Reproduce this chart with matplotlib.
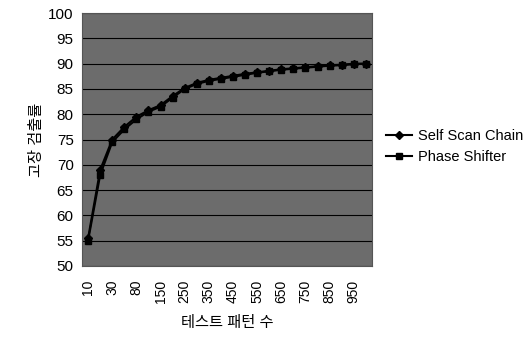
import matplotlib
matplotlib.use("Agg")
import matplotlib.pyplot as plt
import numpy as np

plt.rcParams['font.family'] = ['Liberation Sans', 'Noto Sans CJK KR', 'DejaVu Sans']

categories = [10, 20, 30, 50, 80, 100, 150, 200, 250, 300, 350, 400, 450, 500,
              550, 600, 650, 700, 750, 800, 850, 900, 950, 1000]
self_scan = [55.5, 69.0, 75.0, 77.5, 79.5, 80.8, 81.8, 83.6, 85.2, 86.2, 86.8, 87.2,
             87.6, 88.0, 88.3, 88.6, 88.9, 89.1, 89.3, 89.5, 89.7, 89.8, 90.0, 90.0]
phase_shifter = [55.0, 68.0, 74.5, 77.0, 79.0, 80.5, 81.5, 83.3, 85.0, 86.0, 86.6, 87.0,
                 87.4, 87.8, 88.2, 88.5, 88.8, 89.0, 89.2, 89.4, 89.6, 89.7, 89.9, 90.0]

fig = plt.figure(figsize=(5.26, 3.45), dpi=100)
ax = fig.add_axes([0.156, 0.229, 0.551, 0.733])
ax.set_facecolor('#6c6c6c')

x = np.arange(len(categories))
ax.plot(x, self_scan, color='black', lw=1.5, marker='D', ms=4, label='Self Scan Chain', zorder=3)
ax.plot(x, phase_shifter, color='black', lw=1.5, marker='s', ms=4, label='Phase Shifter', zorder=3)

ax.set_xlim(-0.5, len(categories) - 0.5)
ax.set_ylim(50, 100)
ax.set_yticks(np.arange(50, 101, 5))
ax.yaxis.grid(True, color='black', lw=0.8)
ax.set_axisbelow(True)
ax.tick_params(axis='y', length=0, labelsize=11, pad=6)
ax.set_xticks(x[::2])
ax.set_xticklabels([str(c) for c in categories[::2]], rotation=90, fontsize=10)
ax.tick_params(axis='x', length=0, pad=10)
for s in ax.spines.values():
    s.set_color('#555555')
    s.set_linewidth(0.8)

ax.set_ylabel('고장 검출률', fontsize=11, labelpad=3)
ax.set_xlabel('테스트 패턴 수', fontsize=11, labelpad=9)

leg = fig.legend(loc='center left', bbox_to_anchor=(0.708, 0.575), frameon=False,
                 fontsize=10.5, handlelength=1.8, handletextpad=0.4, labelspacing=0.5)

fig.savefig('out.png', dpi=100)
